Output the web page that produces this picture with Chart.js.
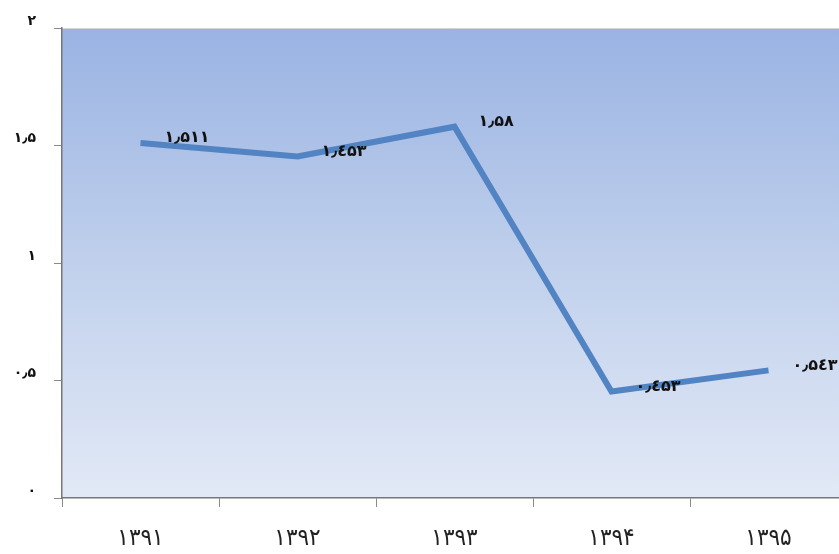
<!DOCTYPE html>
<html>
<head>
<meta charset="utf-8">
<script src="https://cdn.jsdelivr.net/npm/chart.js@4/dist/chart.umd.min.js"></script>
<style>
  html, body { margin:0; padding:0; background:#fff; overflow:hidden; }
  #wrap { width:839px; height:554px; overflow:hidden; }
</style>
</head>
<body>
<div id="wrap"><canvas id="c" width="850" height="554"></canvas></div>
<script>
(function(){
  // ---------- data ----------
  const years = ["۱۳۹۱", "۱۳۹۲", "۱۳۹۳", "۱۳۹۴", "۱۳۹۵"];
  const values = [1.511, 1.453, 1.58, 0.453, 0.543];
  const valueLabels = ["۱٫۵۱۱", "۱٫٤۵۳", "۱٫۵۸", "۰٫٤۵۳", "۰٫۵٤۳"];
  const yTicks = [0, 0.5, 1, 1.5, 2];
  const yTickLabels = ["۰", "۰٫۵", "۱", "۱٫۵", "۲"];

  // ---------- plugins ----------
  const plotBg = {
    id: "plotBg",
    beforeDraw(chart){
      const {ctx, chartArea:a} = chart;
      const g = ctx.createLinearGradient(0, a.top, 0, a.bottom);
      g.addColorStop(0, "#9ab3e3");
      g.addColorStop(0.5, "#c0d0ec");
      g.addColorStop(1, "#e2e9f6");
      ctx.save();
      ctx.fillStyle = g;
      ctx.fillRect(a.left, a.top, a.right - a.left, a.bottom - a.top);
      ctx.strokeStyle = "#d6d6d6";
      ctx.lineWidth = 1;
      ctx.beginPath();
      ctx.moveTo(a.left, a.top + 0.5);
      ctx.lineTo(a.right, a.top + 0.5);
      ctx.stroke();
      ctx.restore();
    }
  };

  const pointLabels = {
    id: "pointLabels",
    afterDatasetsDraw(chart){
      const {ctx} = chart;
      const meta = chart.getDatasetMeta(0);
      ctx.save();
      ctx.font = "bold 16px 'DejaVu Sans'";
      ctx.fillStyle = "#111";
      ctx.textAlign = "left";
      ctx.textBaseline = "middle";
      meta.data.forEach((pt, i)=>{
        ctx.fillText(valueLabels[i], pt.x + 24, pt.y - 5);
      });
      ctx.restore();
    }
  };

  new Chart(document.getElementById("c"), {
    type: "line",
    data: {
      labels: years,
      datasets: [{
        data: values,
        borderColor: "#5283c2",
        borderWidth: 6,
        tension: 0,
        pointRadius: 0,
        borderJoinStyle: "miter",
        borderCapStyle: "butt"
      }]
    },
    options: {
      responsive: false,
      animation: false,
      layout: { padding: { top: 28, right: 3, left: 0, bottom: 0 } },
      plugins: { legend: { display: false }, tooltip: { enabled: false } },
      scales: {
        x: {
          offset: true,
          grid: { offset: true, drawOnChartArea: false, drawTicks: true, tickLength: 9, color: "#8a8a8a" },
          border: { color: "#777", width: 1.5 },
          ticks: { color: "#222", font: { family: "'DejaVu Sans Condensed', 'DejaVu Sans'", size: 24 }, padding: 17 },
          afterFit(scale){ scale.height = 56; }
        },
        y: {
          min: 0, max: 2,
          afterBuildTicks(scale){ scale.ticks = yTicks.map(v=>({value:v})); },
          grid: { drawOnChartArea: false, drawTicks: true, tickLength: 8, color: "#8a8a8a" },
          border: { color: "#777", width: 1.5 },
          ticks: {
            color: "#111",
            font: { family: "'DejaVu Sans'", size: 14, weight: "bold" },
            padding: 18,
            labelOffset: -7,
            callback(v){ const i = yTicks.indexOf(v); return i >= 0 ? yTickLabels[i] : ""; }
          },
          afterFit(scale){ scale.width = 62; }
        }
      }
    },
    plugins: [plotBg, pointLabels]
  });
})();
</script>
</body>
</html>
